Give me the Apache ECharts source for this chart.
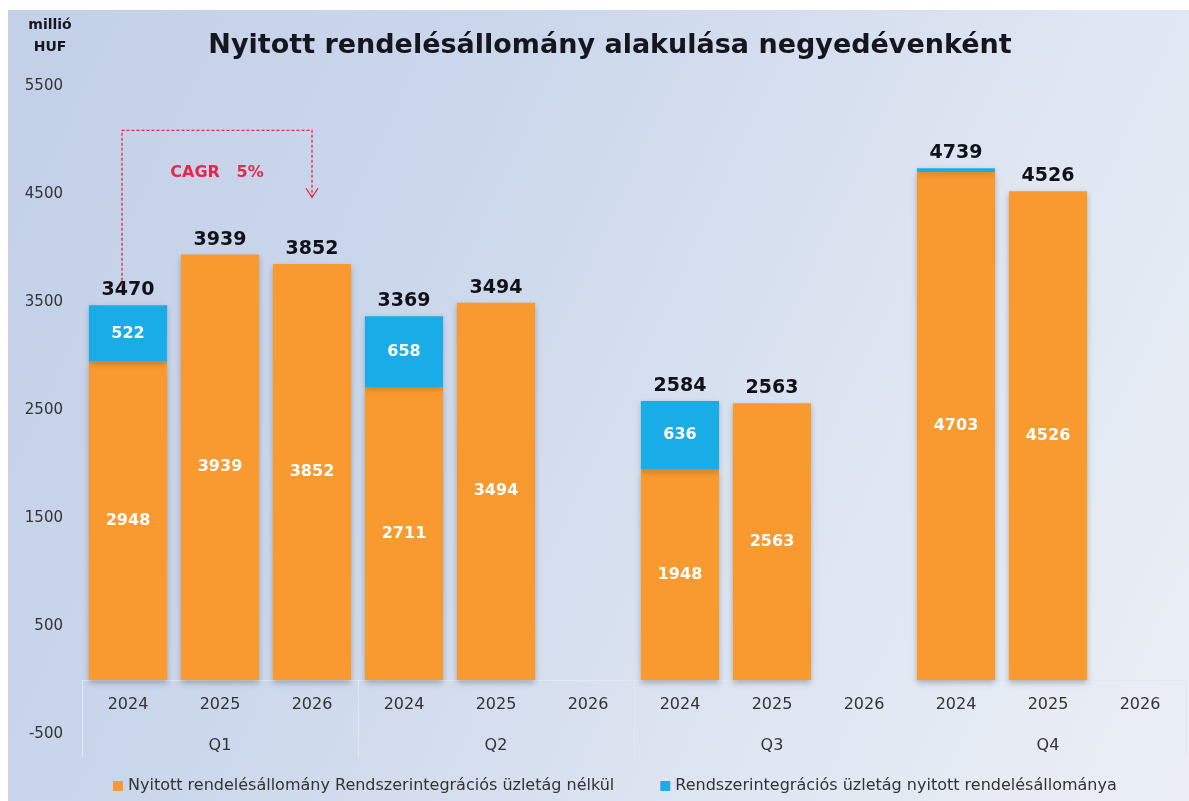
<!DOCTYPE html>
<html>
<head>
<meta charset="utf-8">
<script src="https://cdn.jsdelivr.net/npm/echarts@6/dist/echarts.min.js"></script>
<style>
    body { margin: 0; background: #ffffff; }
    #main {
        width: 1189px;
        height: 801px;
        background:
            linear-gradient(#ffffff, #ffffff) left top / 8px 100% no-repeat,
            linear-gradient(#ffffff, #ffffff) left top / 100% 10px no-repeat,
            linear-gradient(115deg, #c2d0e8 0%, #cbd7eb 35%, #dfe6f2 70%, #ebeff5 100%);
    }
</style>
</head>
<body>
<div id="main"></div>
<script>
// kategóriák (év) és negyedévek
const years = ['2024', '2025', '2026', '2024', '2025', '2026', '2024', '2025', '2026', '2024', '2025', '2026'];
const quarters = ['Q1', 'Q2', 'Q3', 'Q4'];

// Nyitott rendelésállomány Rendszerintegrációs üzletág nélkül
const baseValues = [2948, 3939, 3852, 2711, 3494, null, 1948, 2563, null, 4703, 4526, null];
// Rendszerintegrációs üzletág nyitott rendelésállománya
const siValues = [522, null, null, 658, null, null, 636, null, null, 36, null, null];
// összesen (oszlop feletti címke)
const totals = [3470, 3939, 3852, 3369, 3494, null, 2584, 2563, null, 4739, 4526, null];

const yTicks = { min: -500, max: 5500, interval: 1000 };

const seriesNames = [
    'Nyitott rendelésállomány Rendszerintegrációs üzletág nélkül',
    'Rendszerintegrációs üzletág nyitott rendelésállománya'
];

const font = 'DejaVu Sans';
const orange = '#F99A30';
const blue = '#1AACE7';
const red = '#E5274A';

let chart = echarts.init(document.getElementById('main'));
let option;

option = {
    animation: false,
    textStyle: { fontFamily: font },
    title: [
        {
            text: 'Nyitott rendelésállomány alakulása negyedévenként',
            left: 605,
            top: 27,
            textAlign: 'center',
            textStyle: { fontFamily: font, fontSize: 27, fontWeight: 'bold', color: '#16161e' }
        },
        {
            text: 'millió\nHUF',
            left: 45,
            top: 9,
            textAlign: 'center',
            textStyle: { fontFamily: font, fontSize: 14, fontWeight: 'bold', color: '#16161e', lineHeight: 22 }
        }
    ],
    legend: {
        data: seriesNames,
        left: 108,
        top: 773,
        icon: 'rect',
        itemWidth: 10,
        itemHeight: 10,
        itemGap: 46,
        textStyle: { fontFamily: font, fontSize: 16, color: '#333' }
    },
    grid: {
        left: 82,
        right: 3,
        top: 86,
        bottom: 67
    },
    xAxis: [
        {
            type: 'category',
            data: years,
            position: 'bottom',
            axisLine: { onZero: true, lineStyle: { color: '#e2e8f2', width: 1 } },
            axisTick: {
                show: true,
                interval: function (idx) { return idx % 3 === 0; },
                length: 77,
                lineStyle: { color: '#e2e8f2' }
            },
            // a címkék a nulla-vonal alatt
            axisLabel: { interval: 0, margin: -37, fontSize: 16, color: '#333', fontFamily: font }
        },
        {
            type: 'category',
            data: quarters,
            position: 'bottom',
            axisLine: { show: false, onZero: false },
            axisTick: { show: false },
            axisLabel: { interval: 0, margin: 4, fontSize: 16, color: '#333', fontFamily: font }
        }
    ],
    yAxis: {
        type: 'value',
        min: yTicks.min,
        max: yTicks.max,
        interval: yTicks.interval,
        splitLine: { show: false },
        axisLine: { show: false },
        axisTick: { show: false },
        axisLabel: {
            margin: 19,
            fontSize: 15,
            color: '#333',
            fontFamily: font,
            formatter: function (v) { return String(v); }
        }
    },
    series: [
        {
            name: seriesNames[0],
            type: 'bar',
            stack: 'total',
            barWidth: '85%',
            data: baseValues,
            itemStyle: {
                color: orange,
                shadowBlur: 6,
                shadowColor: 'rgba(0,0,0,0.25)',
                shadowOffsetY: 3
            },
            label: {
                show: true,
                position: 'inside',
                color: '#fff',
                fontSize: 16,
                fontWeight: 'bold',
                fontFamily: font
            }
        },
        {
            name: seriesNames[1],
            type: 'bar',
            stack: 'total',
            barWidth: '85%',
            data: siValues,
            itemStyle: {
                color: blue,
                shadowBlur: 6,
                shadowColor: 'rgba(0,0,0,0.2)',
                shadowOffsetY: 2
            },
            label: {
                show: true,
                position: 'inside',
                color: '#fff',
                fontSize: 16,
                fontWeight: 'bold',
                fontFamily: font,
                formatter: function (p) { return p.value > 100 ? p.value : ''; }
            }
        },
        {
            name: 'Összesen',
            type: 'scatter',
            data: totals,
            symbolSize: 1,
            itemStyle: { color: 'rgba(0,0,0,0)', opacity: 1 },
            label: {
                show: true,
                position: 'top',
                distance: 5,
                color: '#111118',
                fontSize: 19,
                fontWeight: 'bold',
                fontFamily: font
            },
            z: 5
        }
    ]
};
option && chart.setOption(option);

// CAGR nyíl (szaggatott vonal)
const px = (cat, v) => chart.convertToPixel({ xAxisIndex: 0, yAxisIndex: 0 }, [cat, v]);
const a = px(0, 3650);
const b = px(0, 5090);
const c = px(2, 5090);
const d = px(2, 4470);
const t = px(1, 4700);
const x0 = a[0] - 6;

chart.setOption({
    graphic: [
        {
            type: 'polyline',
            shape: { points: [[x0, a[1]], [x0, b[1]], [c[0], c[1]], [d[0], d[1]]] },
            style: { stroke: red, lineWidth: 1.3, lineDash: [3, 2], fill: null },
            z: 10
        },
        {
            type: 'polyline',
            shape: { points: [[d[0] - 6, d[1] - 9], [d[0], d[1]], [d[0] + 6, d[1] - 9]] },
            style: { stroke: red, lineWidth: 1.3, fill: null },
            z: 10
        },
        {
            type: 'text',
            x: t[0] - 3,
            y: t[1],
            style: {
                text: 'CAGR   5%',
                fill: red,
                font: 'bold 16px "DejaVu Sans"',
                align: 'center',
                verticalAlign: 'middle'
            },
            z: 10
        }
    ]
});
</script>
</body>
</html>
